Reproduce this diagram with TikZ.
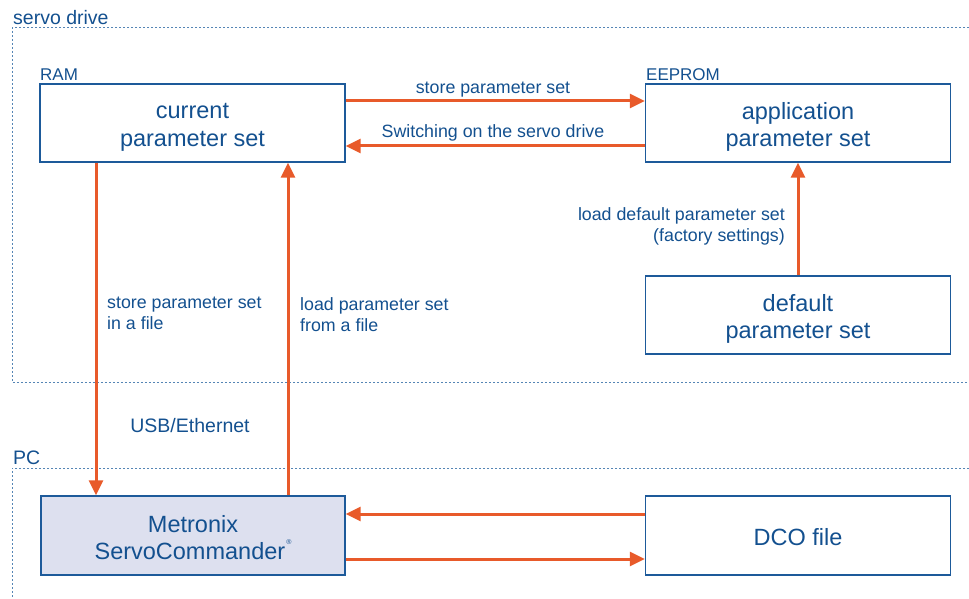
\documentclass[tikz,border=0pt]{standalone}
\usepackage{fontspec}
\setmainfont{Liberation Sans}
\usetikzlibrary{arrows.meta}
\definecolor{txtblue}{HTML}{13508F}
\definecolor{boxblue}{HTML}{1D5A9A}
\definecolor{fillblue}{HTML}{DDE0EF}
\definecolor{arrorange}{HTML}{E85A2A}
\definecolor{framecol}{HTML}{5585B5}
\tikzset{
  pbox/.style={draw=boxblue, line width=1.4pt, minimum width=305pt, minimum height=78pt,
    inner sep=0pt},
  boxtxt/.style={inner sep=0pt, align=center, text=txtblue,
    font=\fontsize{23.5}{27.5}\selectfont},
  arr/.style={draw=arrorange, line width=3pt, -{Triangle[length=15pt,width=14pt]}},
  frame/.style={draw=framecol, line width=1pt, dash pattern=on 2pt off 2pt},
  lbl/.style={text=txtblue, inner sep=0pt, font=\fontsize{17.8}{21}\selectfont},
  tag/.style={text=txtblue, inner sep=0pt, font=\fontsize{17}{20}\selectfont},
  head/.style={text=txtblue, inner sep=0pt, font=\fontsize{19.5}{22}\selectfont},
}
\begin{document}
\begin{tikzpicture}[x=1pt,y=-1pt]
\useasboundingbox (0,0) rectangle (969,599);
% frames
\draw[frame] (969,28) -- (12,28) -- (12,382) -- (969,382);
\draw[frame] (969,468) -- (12,468) -- (12,599);
\node[head, anchor=base west] (sd) at (13,25) {servo drive};
\node[head, anchor=base west] (pc) at (13,464) {PC};
% boxes
\node[pbox] (cur) at (192.5,123) {};
\node[pbox] (app) at (798,123) {};
\node[pbox] (def) at (798,315) {};
\node[pbox, fill=fillblue, minimum width=304pt, minimum height=79pt] (mx) at (193,535.5) {};
\node[pbox, minimum height=79pt] (dco) at (798,535.5) {};
\node[boxtxt] (curt) at ([yshift=-4.5pt]cur.center) {current\\parameter set};
\node[boxtxt] (appt) at ([yshift=-4pt]app.center) {application\\parameter set};
\node[boxtxt] (deft) at ([yshift=-4pt]def.center) {default\\parameter set};
\node[boxtxt] (mxt) at ([yshift=-2pt]mx.center) {Metronix\\ServoCommander\kern1pt\raisebox{15pt}{\fontsize{7}{7}\selectfont ®}};
\node[boxtxt] (dcot) at ([yshift=-2pt]dco.center) {DCO file};
\node[tag, anchor=base west] (ram) at (40,81) {RAM};
\node[tag, anchor=base west] (eep) at (646,81) {EEPROM};
% arrows
\draw[arr] ([yshift=22pt]cur.east) -- ([yshift=22pt]app.west);
\draw[arr] ([yshift=-23pt]app.west) -- ([yshift=-23pt]cur.east);
\draw[arr] (def.north) -- (app.south);
\draw[arr] ([xshift=-96.5pt]cur.south) -- ([xshift=-96.5pt]cur.south |- mx.north);
\draw[arr] ([xshift=95pt]mx.north) -- ([xshift=95pt]mx.north |- cur.south);
\draw[arr] ([yshift=21.5pt]dco.west) -- ([yshift=21.5pt]mx.east);
\draw[arr] ([yshift=-23.5pt]mx.east) -- ([yshift=-23.5pt]dco.west);
% labels
\node[lbl, anchor=base] (l1) at (493,94) {store parameter set};
\node[lbl, anchor=base] (l2) at (493,138) {Switching on the servo drive};
\node[lbl, anchor=north east, align=right] (l3) at (785,207) {load default parameter set\\(factory settings)};
\node[lbl, anchor=north west, align=left] (l4) at (107,297) {store parameter set\\in a file};
\node[lbl, anchor=north west, align=left] (l5) at (300,297) {load parameter set\\from a file};
\node[head, anchor=base] (l6) at (190,432) {USB/Ethernet};
\end{tikzpicture}
\end{document}
